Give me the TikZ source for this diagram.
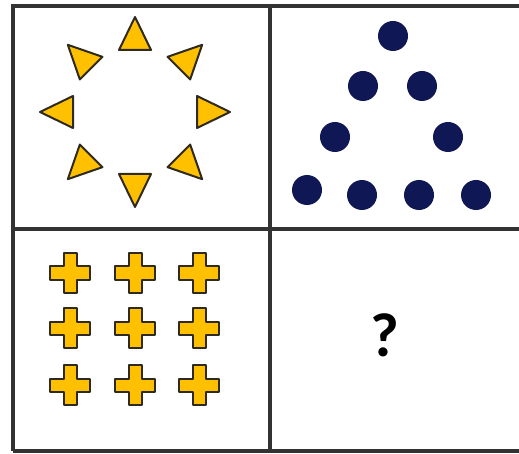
\documentclass[tikz,border=0pt]{standalone}
\usepackage{fontspec}
\newfontfamily\qfont{Carlito}
\definecolor{gold}{HTML}{FFC000}
\definecolor{navy}{HTML}{0F1755}
\definecolor{edge}{HTML}{2E2A20}
\definecolor{gridc}{HTML}{333333}
\begin{document}
\begin{tikzpicture}[x=1pt,y=-1pt,
  gridline/.style={draw=gridc,line width=3.2pt},
  tri/.style={fill=gold,draw=edge,line width=2pt,line join=round},
  dot/.style={fill=navy,draw=none},
  crossshape/.style={fill=gold,draw=edge,line width=2pt,line join=round}]
\useasboundingbox (0,0) rectangle (519,454);
\clip (0,0) rectangle (519,454);
\fill[white] (0,0) rectangle (519,454);
% grid
\draw[gridline] (13,451) -- (13,6) -- (530,6);
\draw[gridline] (13,229) -- (530,229);
\draw[gridline] (13,451) -- (530,451);
\draw[gridline] (270,6) -- (270,451);
% triangles
\foreach \a in {0,45,...,315}{
  \draw[tri] ({135+95*cos(\a)},{112+95*sin(\a)})
    -- ({135+62*cos(\a)-16*sin(\a)},{112+62*sin(\a)+16*cos(\a)})
    -- ({135+62*cos(\a)+16*sin(\a)},{112+62*sin(\a)-16*cos(\a)}) -- cycle;
}
% dots
\foreach \p in {(393,36),(363,86),(422,86),(335,137),(448,137),(307,190),(362,195),(419,195),(476,195)}{
  \fill[dot] \p circle (15);
}
% crosses
\foreach \cx in {70,135,199}{
  \foreach \cy in {273,328,385}{
    \draw[crossshape] (\cx-6.5,\cy-20) -- (\cx+6.5,\cy-20) -- (\cx+6.5,\cy-6.5) -- (\cx+20,\cy-6.5)
      -- (\cx+20,\cy+6.5) -- (\cx+6.5,\cy+6.5) -- (\cx+6.5,\cy+20) -- (\cx-6.5,\cy+20)
      -- (\cx-6.5,\cy+6.5) -- (\cx-20,\cy+6.5) -- (\cx-20,\cy-6.5) -- (\cx-6.5,\cy-6.5) -- cycle;
  }
}
% question mark
\node[inner sep=0pt] (q) at (385,335) {\qfont\bfseries\fontsize{62}{62}\selectfont ?};
\end{tikzpicture}
\end{document}
